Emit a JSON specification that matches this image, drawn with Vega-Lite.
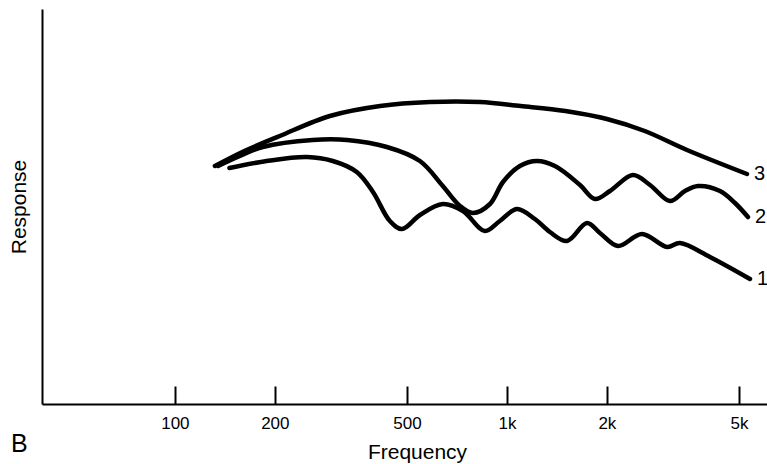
{
  "$schema": "https://vega.github.io/schema/vega-lite/v6.json",
  "width": 725,
  "height": 395,
  "autosize": {"type": "none"},
  "padding": {"left": 42, "top": 9, "right": 0, "bottom": 60},
  "background": "white",
  "config": {
    "view": {"stroke": null},
    "font": "Liberation Sans",
    "axis": {"grid": false, "domainColor": "black", "domainWidth": 2, "tickColor": "black", "tickWidth": 2, "labelColor": "black", "titleColor": "black", "titleFontWeight": "normal", "labelFont": "Liberation Sans", "titleFont": "Liberation Sans"},
    "title": {"font": "Liberation Sans", "fontWeight": "normal", "color": "black"}
  },
  "title": {"text": "B", "orient": "bottom", "anchor": "start", "frame": "bounds", "fontSize": 25, "dx": 3, "offset": -30},
  "data": {
    "values": [
      {"curve": "3", "f": 132, "r": 238},
      {"curve": "3", "f": 162, "r": 253},
      {"curve": "3", "f": 207, "r": 268},
      {"curve": "3", "f": 293, "r": 288},
      {"curve": "3", "f": 415, "r": 298},
      {"curve": "3", "f": 586, "r": 302},
      {"curve": "3", "f": 829, "r": 302},
      {"curve": "3", "f": 1100, "r": 298},
      {"curve": "3", "f": 1500, "r": 293},
      {"curve": "3", "f": 2000, "r": 285},
      {"curve": "3", "f": 2600, "r": 273},
      {"curve": "3", "f": 3485, "r": 254},
      {"curve": "3", "f": 5283, "r": 230},
      {"curve": "2", "f": 135, "r": 238},
      {"curve": "2", "f": 157, "r": 248},
      {"curve": "2", "f": 184, "r": 257},
      {"curve": "2", "f": 260, "r": 264},
      {"curve": "2", "f": 330, "r": 264},
      {"curve": "2", "f": 435, "r": 257},
      {"curve": "2", "f": 547, "r": 243},
      {"curve": "2", "f": 641, "r": 218},
      {"curve": "2", "f": 722, "r": 198},
      {"curve": "2", "f": 790, "r": 191},
      {"curve": "2", "f": 889, "r": 200},
      {"curve": "2", "f": 973, "r": 222},
      {"curve": "2", "f": 1094, "r": 238},
      {"curve": "2", "f": 1231, "r": 243},
      {"curve": "2", "f": 1395, "r": 238},
      {"curve": "2", "f": 1660, "r": 219},
      {"curve": "2", "f": 1841, "r": 205},
      {"curve": "2", "f": 2043, "r": 213},
      {"curve": "2", "f": 2396, "r": 229},
      {"curve": "2", "f": 2697, "r": 219},
      {"curve": "2", "f": 3098, "r": 203},
      {"curve": "2", "f": 3436, "r": 213},
      {"curve": "2", "f": 3760, "r": 218},
      {"curve": "2", "f": 4382, "r": 213},
      {"curve": "2", "f": 4862, "r": 201},
      {"curve": "2", "f": 5319, "r": 187},
      {"curve": "1", "f": 146, "r": 236},
      {"curve": "1", "f": 189, "r": 243},
      {"curve": "1", "f": 250, "r": 247},
      {"curve": "1", "f": 299, "r": 243},
      {"curve": "1", "f": 353, "r": 232},
      {"curve": "1", "f": 395, "r": 212},
      {"curve": "1", "f": 444, "r": 183},
      {"curve": "1", "f": 483, "r": 175},
      {"curve": "1", "f": 547, "r": 189},
      {"curve": "1", "f": 641, "r": 200},
      {"curve": "1", "f": 737, "r": 193},
      {"curve": "1", "f": 858, "r": 173},
      {"curve": "1", "f": 952, "r": 183},
      {"curve": "1", "f": 1072, "r": 195},
      {"curve": "1", "f": 1214, "r": 185},
      {"curve": "1", "f": 1347, "r": 172},
      {"curve": "1", "f": 1517, "r": 163},
      {"curve": "1", "f": 1742, "r": 181},
      {"curve": "1", "f": 1906, "r": 171},
      {"curve": "1", "f": 2159, "r": 158},
      {"curve": "1", "f": 2551, "r": 170},
      {"curve": "1", "f": 3035, "r": 157},
      {"curve": "1", "f": 3320, "r": 161},
      {"curve": "1", "f": 4087, "r": 147},
      {"curve": "1", "f": 5394, "r": 125}
    ]
  },
  "encoding": {
    "x": {
      "field": "f", "type": "quantitative",
      "scale": {"type": "log", "domain": [39.8, 6070], "nice": false},
      "axis": {"title": "Frequency", "titleFontSize": 21, "titleX": 375, "titlePadding": 10, "values": [100, 200, 500, 1000, 2000, 5000], "labelExpr": "datum.value >= 1000 ? (datum.value / 1000) + 'k' : datum.value", "labelFontSize": 17, "tickSize": -18, "labelPadding": 29, "labelBaseline": "top"}
    },
    "y": {
      "field": "r", "type": "quantitative",
      "scale": {"domain": [0, 395], "nice": false},
      "axis": {"title": "Response", "titleFontSize": 21, "ticks": false, "labels": false, "titlePadding": 13}
    }
  },
  "layer": [
    {
      "mark": {"type": "line", "interpolate": "catmull-rom", "color": "black", "strokeWidth": 4.5, "strokeCap": "round", "strokeJoin": "round"},
      "encoding": {"detail": {"field": "curve"}}
    },
    {
      "transform": [
        {"joinaggregate": [{"op": "max", "field": "f", "as": "maxf"}], "groupby": ["curve"]},
        {"filter": "datum.f == datum.maxf"}
      ],
      "mark": {"type": "text", "align": "left", "baseline": "middle", "dx": 7, "fontSize": 20, "color": "black"},
      "encoding": {"text": {"field": "curve"}}
    }
  ]
}
